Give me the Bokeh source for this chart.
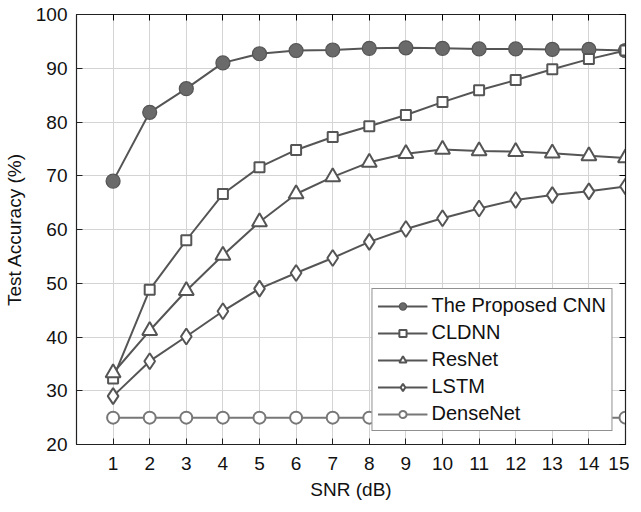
from bokeh.plotting import figure
from bokeh.models import FixedTicker, LinearAxis, Range1d
from bokeh.embed import file_html
from bokeh.resources import INLINE

snr = list(range(1, 16))
proposed = [69.0, 81.8, 86.2, 91.0, 92.7, 93.3, 93.4, 93.7, 93.8, 93.7, 93.6, 93.6, 93.5, 93.5, 93.3]
cldnn = [32.3, 48.8, 58.0, 66.6, 71.6, 74.8, 77.2, 79.2, 81.3, 83.7, 85.9, 87.8, 89.8, 91.7, 93.3]
resnet = [33.3, 41.2, 48.6, 55.2, 61.4, 66.6, 69.8, 72.5, 74.1, 74.9, 74.6, 74.5, 74.2, 73.7, 73.3]
lstm = [29.0, 35.5, 40.1, 44.8, 49.0, 51.9, 54.7, 57.7, 60.1, 62.1, 63.9, 65.5, 66.4, 67.1, 68.0]
densenet = [25.0] * 15

x_ticks = list(range(1, 16))
y_ticks = list(range(20, 101, 10))

FONT = "Liberation Sans"
LC = "#555555"

p = figure(frame_width=549, frame_height=430, output_backend="svg", toolbar_location=None,
           x_range=Range1d(0, 15), y_range=Range1d(20, 100),
           min_border_left=75, min_border_top=14, min_border_right=4, min_border_bottom=10)
p.background_fill_color = "white"
p.border_fill_color = "white"
p.outline_line_color = "#222222"
p.outline_line_width = 1.2

p.xaxis.ticker = FixedTicker(ticks=x_ticks)
p.yaxis.ticker = FixedTicker(ticks=y_ticks)
p.xaxis.axis_label = "SNR (dB)"
p.yaxis.axis_label = "Test Accuracy (%)"
for ax in (p.xaxis[0], p.yaxis[0]):
    ax.axis_label_text_font = FONT
    ax.axis_label_text_font_style = "normal"
    ax.axis_label_text_font_size = "19px"
    ax.major_label_text_font = FONT
    ax.major_label_text_font_size = "19px"
    ax.major_label_text_color = "#111111"
    ax.axis_label_text_color = "#111111"
    ax.major_tick_in = 6
    ax.major_tick_out = 0
    ax.minor_tick_line_color = None
    ax.axis_line_color = "#222222"
    ax.major_tick_line_color = "#222222"
p.xaxis.axis_label_standoff = 6
p.yaxis.axis_label_standoff = 8
p.xaxis.major_label_standoff = 12
p.yaxis.major_label_standoff = 9

top = LinearAxis(ticker=FixedTicker(ticks=x_ticks),
                 major_label_overrides={t: "" for t in x_ticks},
                 major_tick_in=6, major_tick_out=0, minor_tick_line_color=None,
                 major_label_standoff=0, axis_line_color="#222222")
right = LinearAxis(ticker=FixedTicker(ticks=y_ticks),
                   major_label_overrides={t: "" for t in y_ticks},
                   major_tick_in=6, major_tick_out=0, minor_tick_line_color=None,
                   major_label_standoff=0, axis_line_color="#222222")
p.add_layout(top, "above")
p.add_layout(right, "right")

p.grid.grid_line_color = "#d4d4d4"
p.grid.grid_line_width = 1

p.line(snr, proposed, line_color=LC, line_width=2, legend_label="The Proposed CNN")
p.scatter(snr, proposed, marker="circle", size=14, fill_color="#6a6a6a", line_color="#555555",
          line_width=1.2, legend_label="The Proposed CNN")

p.line(snr, cldnn, line_color=LC, line_width=2, legend_label="CLDNN")
p.scatter(snr, cldnn, marker="square", size=10, fill_color="white", line_color=LC,
          line_width=2, legend_label="CLDNN")

p.line(snr, resnet, line_color=LC, line_width=2, legend_label="ResNet")
p.scatter(snr, resnet, marker="triangle", size=15, fill_color="white", line_color=LC,
          line_width=2, legend_label="ResNet")

p.line(snr, lstm, line_color=LC, line_width=2, legend_label="LSTM")
p.scatter(snr, lstm, marker="diamond", size=16, fill_color="white", line_color=LC,
          line_width=2, legend_label="LSTM")

p.line(snr, densenet, line_color="#777777", line_width=2, legend_label="DenseNet")
p.scatter(snr, densenet, marker="circle", size=12, fill_color="white", line_color="#777777",
          line_width=2, legend_label="DenseNet")

lg = p.legend[0]
lg.location = "bottom_right"
lg.border_line_color = "#222222"
lg.border_line_width = 1
lg.background_fill_color = "white"
lg.background_fill_alpha = 1
lg.label_text_font = FONT
lg.label_text_font_size = "20px"
lg.label_text_color = "#111111"
lg.glyph_width = 50
lg.glyph_height = 18
lg.label_height = 18
lg.spacing = 4
lg.padding = 5
lg.margin = 13
lg.label_standoff = 4

open("out.html", "w").write(file_html(p, INLINE))
